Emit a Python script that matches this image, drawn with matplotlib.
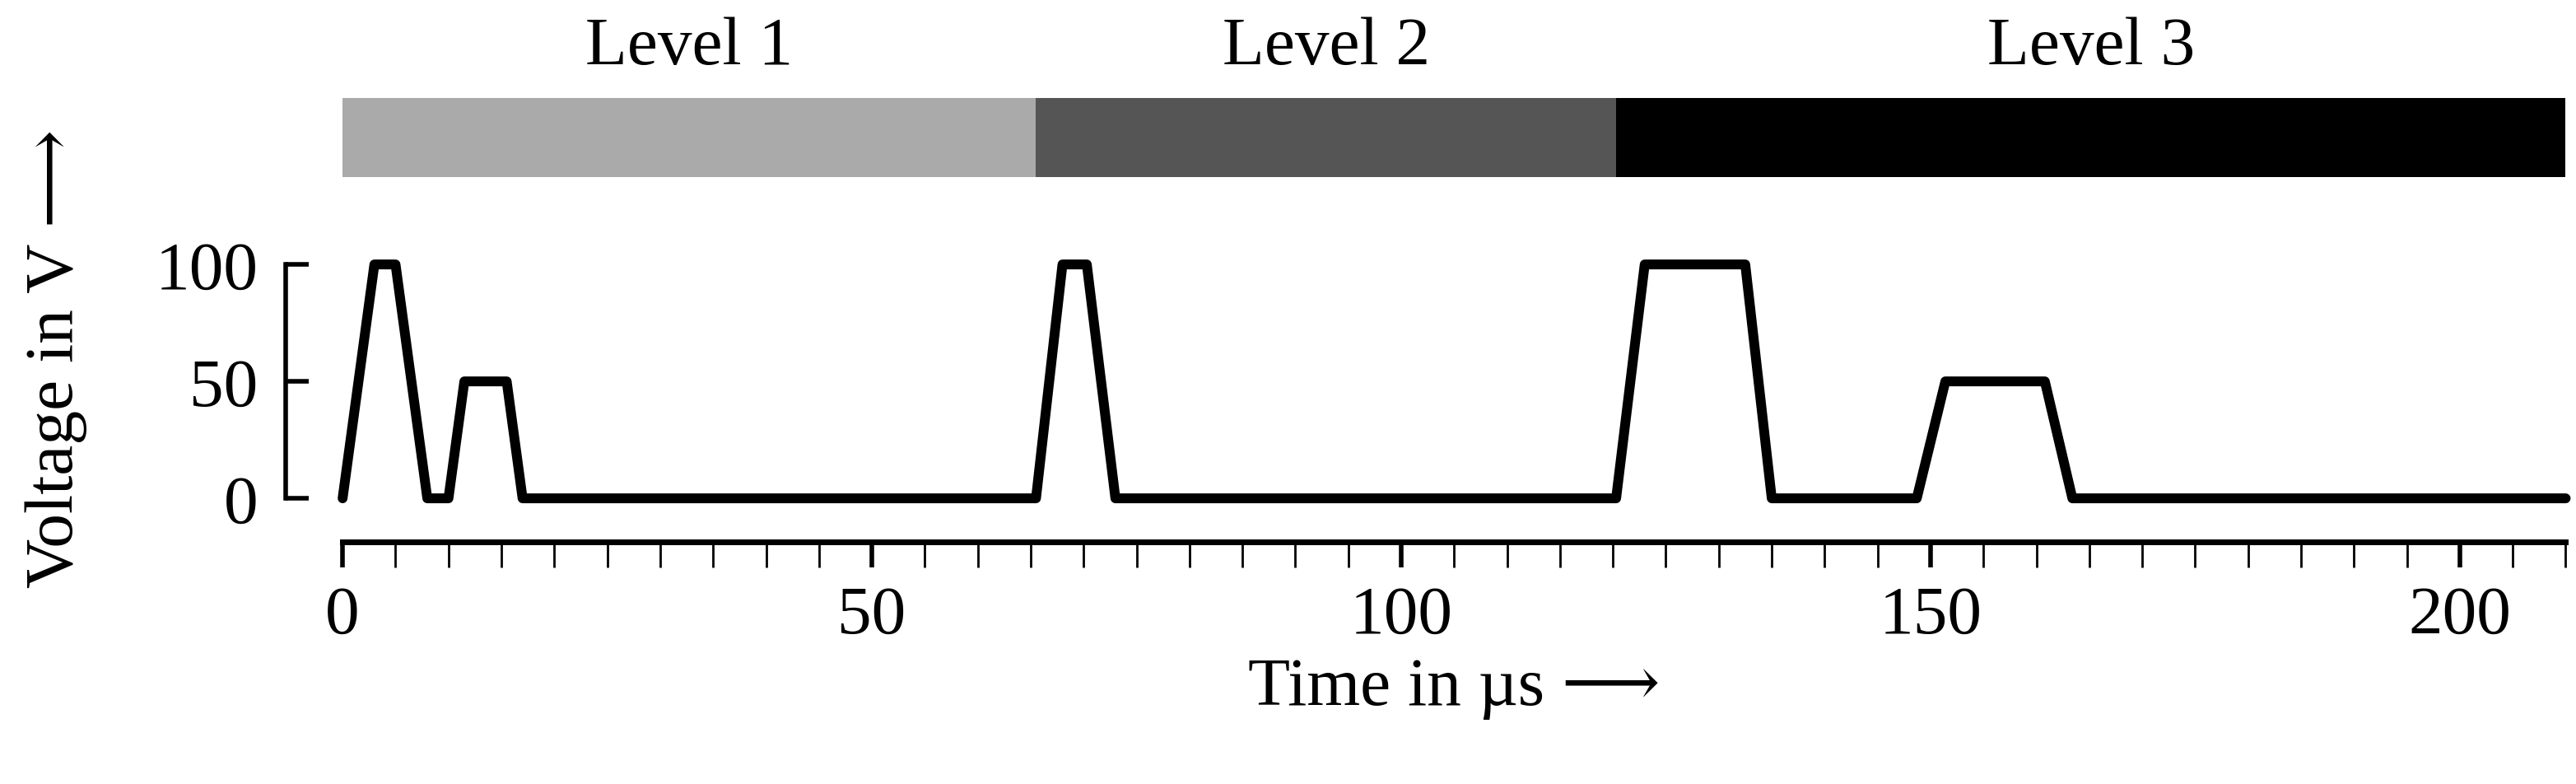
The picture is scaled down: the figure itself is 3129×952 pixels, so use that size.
import matplotlib.pyplot as plt

# data
t = [0, 3, 5, 8, 10, 11.5, 15.5, 17, 65.5, 68, 70.3, 73, 120.3, 123, 132.5, 135,
     148.7, 151.4, 160.8, 163.4, 210]
v = [0, 100, 100, 0, 0, 50, 50, 0, 0, 100, 100, 0, 0, 100, 100, 0,
     0, 50, 50, 0, 0]
levels = ["Level 1", "Level 2", "Level 3"]
level_edges = [0, 65.5, 120.3, 210]
level_colors = ["#aaaaaa", "#555555", "#000000"]

plt.rcParams['font.family'] = ['Liberation Serif', 'DejaVu Serif']
plt.rcParams['font.size'] = 30

fig = plt.figure(figsize=(15.645, 4.765), dpi=200)

# level bar on top
ax_top = fig.add_axes([0.133, 0.773, 0.863, 0.101])
for i, name in enumerate(levels):
    a, b = level_edges[i], level_edges[i + 1]
    ax_top.axvspan(a, b, color=level_colors[i], lw=0)
    ax_top.text((a + b) / 2, 1.25, name, ha='center', va='bottom', fontsize=30)
ax_top.set_xlim(0, 210)
ax_top.set_ylim(0, 1)
ax_top.axis('off')

# voltage curve
ax = fig.add_axes([0.133, 0.364, 0.863, 0.298])
ax.plot(t, v, color='black', lw=4.3, solid_joinstyle='round', solid_capstyle='round',
        clip_on=False)
ax.set_xlim(0, 210)
ax.set_ylim(0, 100)
for s in ['top', 'right']:
    ax.spines[s].set_visible(False)
ax.spines['left'].set_position(('outward', 25))
ax.spines['bottom'].set_position(('outward', 19))
ax.spines['left'].set_bounds(0, 100)
ax.spines['bottom'].set_bounds(0, 210)
ax.spines['left'].set_linewidth(2)
ax.spines['bottom'].set_linewidth(2.5)
ax.set_yticks([0, 50, 100])
ax.set_xticks([0, 50, 100, 150, 200])
ax.set_xticks(range(0, 211, 5), minor=True)
ax.tick_params(axis='y', direction='in', length=10, width=2, pad=12, labelsize=30)
ax.tick_params(axis='x', which='major', direction='out', length=11, width=2, pad=8,
               labelsize=30)
ax.tick_params(axis='x', which='minor', direction='out', length=11, width=1)
ax.set_xlabel("Time in µs ⟶", fontsize=30, labelpad=4)
ax.set_ylabel("Voltage in V ⟶", fontsize=30, labelpad=14)
ax.yaxis.set_label_coords(-0.115, 0.6)

fig.savefig("out.png", dpi=200)
